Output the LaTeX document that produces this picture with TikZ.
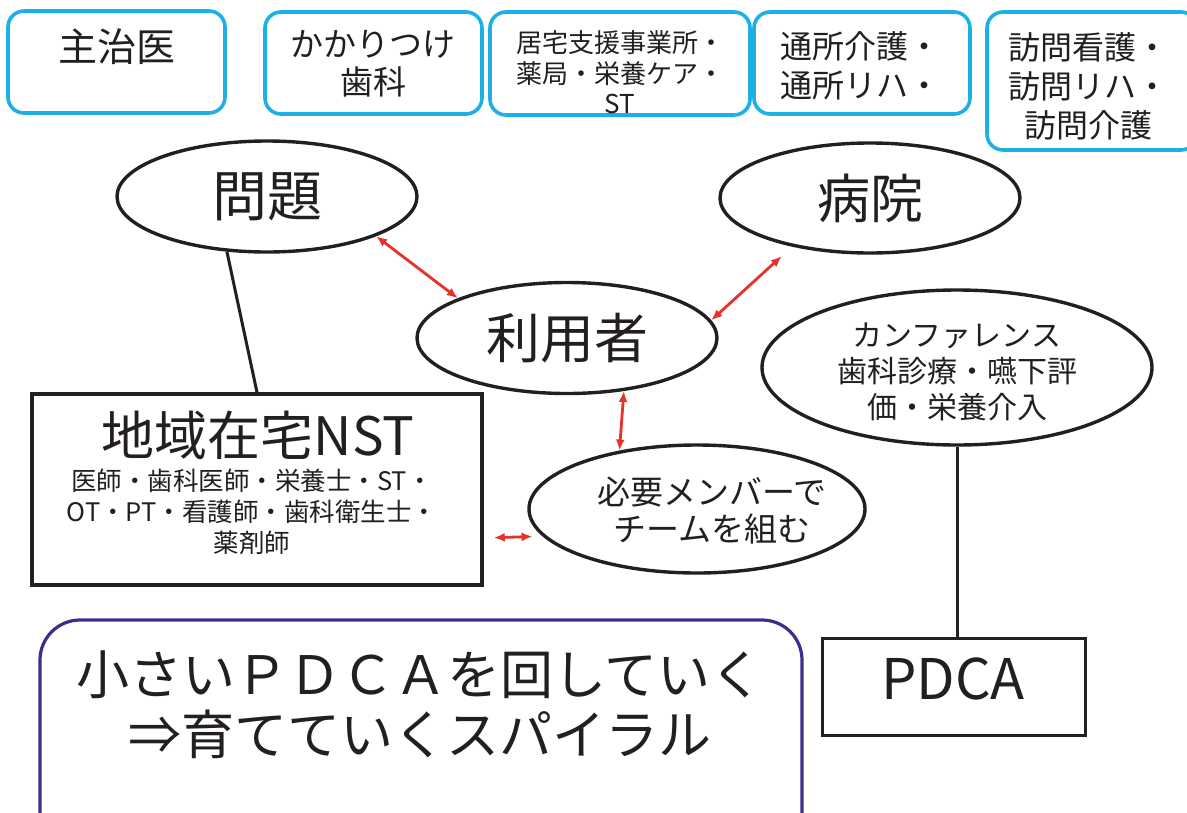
\documentclass[tikz,border=0pt]{standalone}
\usepackage{fontspec}
\setmainfont{Noto Sans CJK JP}
\usetikzlibrary{shapes.geometric,arrows.meta}
\definecolor{ink}{HTML}{231F20}
\definecolor{cyanline}{HTML}{1CB0E6}
\definecolor{redline}{HTML}{E8312A}
\definecolor{navyline}{HTML}{3D2E8E}
\newcommand{\fs}[2]{\fontsize{#1}{#2}\selectfont}
\tikzset{
  cbox/.style={draw=cyanline, line width=3.6pt, rounded corners=16pt, inner sep=0pt},
  ell/.style={draw=ink, ellipse, line width=3.4pt, inner sep=0pt},
  blk/.style={draw=ink, line width=3.4pt, inner sep=0pt},
  conn/.style={draw=ink, line width=3pt},
  rarr/.style={draw=redline, line width=2.8pt, {Latex[length=11pt,width=9pt]}-{Latex[length=11pt,width=9pt]}},
  txt/.style={text=ink, align=center, inner sep=0pt},
}
\begin{document}
\begin{tikzpicture}[x=1pt,y=-1pt]
\useasboundingbox (0,0) rectangle (1187,812);
% top boxes
\node[cbox, minimum width=217pt, minimum height=102pt] (b1) at (116.5,62) {};
\node[txt, font=\fs{39}{39}] (t1) at (117,47) {主治医};
\node[cbox, minimum width=217pt, minimum height=102pt] (b2) at (373.5,63) {};
\node[txt, font=\fs{33}{38}] (t2) at (373,64) {かかりつけ\\歯科};
\node[cbox, minimum width=260pt, minimum height=103pt] (b3) at (620,63.5) {};
\node[txt, font=\fs{26}{30.5}] (t3) at (620,72.5) {居宅支援事業所・\\薬局・栄養ケア・\\ST};
\node[cbox, minimum width=216pt, minimum height=102pt] (b4) at (862,63) {};
\node[txt, font=\fs{32}{39}] (t4) at (860,65.5) {通所介護・\\通所リハ・};
\node[cbox, minimum width=210pt, minimum height=138pt] (b5) at (1092,81) {};
\node[txt, font=\fs{32}{39}] (t5) at (1088,86) {訪問看護・\\訪問リハ・\\訪問介護};
% ellipses
\node[ell, minimum width=300pt, minimum height=111pt, font=\fs{55}{55}, text=ink] (mondai) at (267,196.5) {問題};
\node[ell, minimum width=300pt, minimum height=110pt, font=\fs{53}{53}, text=ink] (byouin) at (870,198) {病院};
\node[ell, minimum width=300pt, minimum height=111pt, font=\fs{54}{54}, text=ink] (riyou) at (567,338) {利用者};
\node[ell, minimum width=390pt, minimum height=155pt] (kanfa) at (957,367.5) {};
\node[txt, font=\fs{30}{36}] (kanfat) at (957,372) {カンファレンス\\歯科診療・嚥下評\\価・栄養介入};
\node[ell, minimum width=336pt, minimum height=128pt] (hitsuyou) at (697,509) {};
\node[txt, font=\fs{33}{37}] (hitsuyout) at (712,511) {必要メンバーで\\チームを組む};
% NST box
\node[blk, minimum width=450pt, minimum height=191pt] (nst) at (257,489.5) {};
\node[txt, font=\fs{53}{53}] (nstt) at (258,435) {地域在宅NST};
\node[txt, font=\fs{25.5}{31}] (nstl) at (252,512) {医師・歯科医師・栄養士・ST・\\OT・PT・看護師・歯科衛生士・\\薬剤師};
% PDCA
\node[draw=ink, line width=3pt, minimum width=263pt, minimum height=97pt, inner sep=0pt] (pdca) at (953.5,686.5) {};
\node[txt, font=\fs{56}{56}] (pdcat) at (953,679) {PDCA};
% bottom box
\node[draw=navyline, line width=3.2pt, rounded corners=40pt, minimum width=762pt, minimum height=250pt, inner sep=0pt] (spiral) at (421,745) {};
\node[txt, font=\fs{53}{60}] (spiralt) at (420,705) {小さいＰＤＣＡを回していく\\⇒育てていくスパイラル};
% connectors
\draw[conn] (mondai.234.7) -- (nst.north);
\draw[conn] (kanfa.south) -- (kanfa.south |- pdca.north);
\draw[rarr] (mondai.-20.8) -- (riyou.160);
\draw[rarr, shorten <=14pt] (byouin.212.5) -- (riyou.7.7);
\draw[rarr] (riyou.-43.9) -- (hitsuyou.143.1);
\draw[rarr, shorten <=10pt, shorten >=10pt] ([yshift=-48.5pt]nst.east) -- (hitsuyou.190.96);
\end{tikzpicture}
\end{document}
